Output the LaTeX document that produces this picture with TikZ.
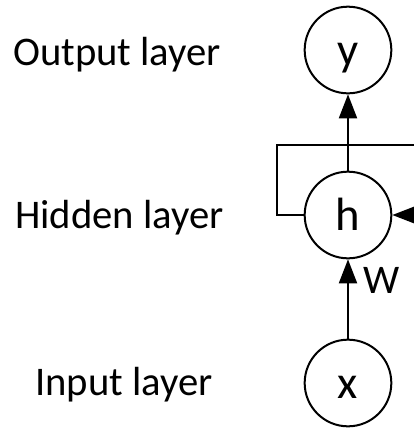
\documentclass[tikz,border=0pt]{standalone}
\usepackage{fontspec}
\setmainfont{Carlito}
\usetikzlibrary{arrows.meta}
\begin{document}
\begin{tikzpicture}[x=.75pt,y=-.75pt,
  neuron/.style={draw=black,circle,line width=1.5pt,minimum size=65pt,inner sep=0pt,
    text height=23pt,text depth=0pt,font=\fontsize{35}{35}\selectfont},
  schicht/.style={font=\fontsize{30.5}{32}\selectfont,anchor=base west,inner sep=0pt},
  kante/.style={line width=1.5pt},
  pfeil/.style={kante,-{Triangle[length=18pt,width=13.5pt]}}]
\useasboundingbox (0,0) rectangle (414,430);
% Neuronen der drei Schichten.
\node[neuron] (y) at (348,50){y};
\node[neuron] (h) at (348,215){h};
\node[neuron] (x) at (348,383){x};
\node[schicht] (lout) at (13,65){Output layer};
\node[schicht] (lhid) at (15,228){Hidden layer};
\node[schicht] (lin) at (35,395){Input layer};
% Verbindungen und Rückkopplung, rechts abgeschnitten.
\coordinate (oben) at (420,145);
\coordinate (rein) at (420,215);
\draw[pfeil] (h) -- (y);
\draw[pfeil] (x) -- node[schicht,pos=.73,anchor=west,xshift=11pt]{W} (h);
\draw[kante] (h.west) -- ++(-27,0) |- (oben);
\draw[pfeil] (rein) -- (h.east);
\end{tikzpicture}
\end{document}
